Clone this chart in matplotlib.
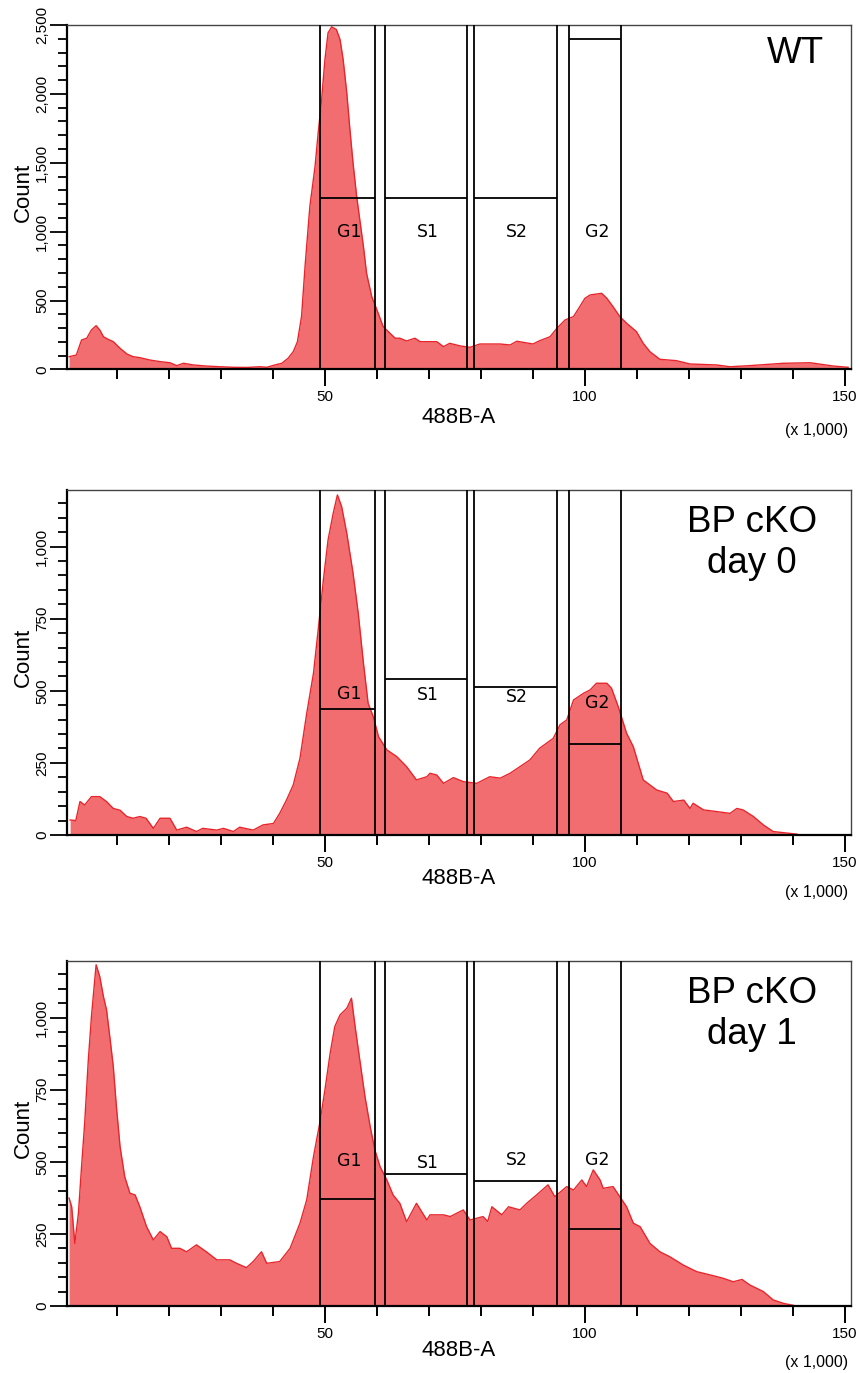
import matplotlib
matplotlib.use("Agg")
import matplotlib.pyplot as plt
from matplotlib.ticker import MultipleLocator, FixedLocator, StrMethodFormatter

plt.rcParams["font.family"] = ["Liberation Sans", "DejaVu Sans"]

# ---------------- DATA (488B-A in thousands, counts) ----------------

wt_x = [0.8, 2.2, 3.2, 4.2, 5.1, 6.0, 6.7, 7.4, 8.3, 9.3,
        10.6, 11.9, 13.1, 14.4, 16.3, 18.3, 20.2, 21.5, 22.8, 24.7,
        27.2, 29.8, 32.4, 35.0, 37.5, 38.8, 40.4, 41.7, 42.9, 43.9,
        44.7, 45.5, 46.2, 47.1, 48.1, 48.7, 49.3, 50.0, 50.6, 51.3,
        52.2, 52.9, 53.5, 54.2, 54.8, 55.4, 56.1, 56.7, 57.4, 58.0,
        59.0, 60.0, 61.2, 62.5, 63.5, 64.4, 65.7, 67.3, 68.3, 71.5,
        72.8, 74.0, 76.0, 77.9, 79.8, 83.7, 85.6, 86.9, 90.0, 91.3,
        93.3, 94.6, 96.2, 97.8, 99.0, 100.0, 101.0, 103.2, 104.2, 105.4,
        106.7, 108.0, 109.9, 111.2, 112.5, 114.4, 117.6, 120.2, 125.3, 127.9,
        131.7, 138.1, 143.3, 147.8, 150.6]
wt_count = [93, 105, 214, 227, 287, 318, 287, 238, 219, 202,
            154, 113, 93, 86, 69, 57, 49, 28, 45, 33,
            25, 20, 16, 15, 20, 16, 33, 45, 81, 129,
            200, 384, 760, 1183, 1474, 1717, 1935, 2249, 2443, 2487,
            2467, 2395, 2249, 2007, 1741, 1499, 1256, 1087, 893, 699,
            529, 432, 311, 263, 227, 227, 207, 227, 202, 202,
            166, 190, 171, 161, 185, 185, 178, 205, 185, 209,
            238, 299, 360, 384, 456, 517, 541, 553, 517, 456,
            384, 336, 275, 190, 129, 74, 64, 40, 33, 20,
            28, 45, 49, 25, 16]

d0_x = [1.0, 2.1, 2.9, 3.8, 5.1, 6.7, 8.0, 9.3, 10.6, 11.9,
        13.1, 14.4, 15.6, 17.0, 18.3, 20.2, 21.5, 23.4, 25.3, 26.5,
        29.2, 30.5, 32.4, 33.6, 36.2, 38.1, 40.1, 41.3, 42.6, 43.9,
        45.2, 46.5, 47.8, 48.7, 49.7, 50.6, 51.6, 52.4, 53.2, 54.2,
        55.4, 56.4, 57.4, 58.3, 59.3, 60.3, 61.9, 63.8, 65.7, 67.6,
        69.6, 70.2, 71.5, 72.8, 74.7, 76.6, 79.2, 81.7, 83.7, 85.6,
        87.5, 89.4, 91.3, 92.6, 93.9, 95.2, 96.5, 97.8, 99.7, 101.0,
        102.2, 104.2, 105.1, 106.4, 108.0, 109.3, 111.2, 113.8, 115.8, 117.0,
        119.0, 120.2, 120.8, 122.8, 125.4, 127.9, 129.2, 130.4, 132.4, 134.3,
        136.2, 138.2, 140.7, 141.3]
d0_count = [52, 50, 116, 104, 133, 133, 116, 92, 86, 64,
            58, 64, 58, 23, 58, 58, 17, 27, 12, 23,
            17, 23, 12, 27, 17, 35, 40, 75, 121, 173,
            266, 422, 561, 711, 884, 1023, 1116, 1179, 1139, 1046,
            908, 769, 596, 457, 410, 341, 295, 272, 237, 191,
            202, 214, 208, 179, 199, 185, 179, 202, 197, 214,
            237, 260, 301, 318, 335, 382, 399, 468, 491, 503,
            526, 526, 509, 445, 353, 306, 191, 156, 145, 116,
            121, 92, 110, 87, 81, 75, 92, 87, 64, 35,
            12, 8, 3, 0]

d1_x = [0.8, 1.3, 1.9, 2.6, 3.2, 3.8, 4.5, 5.1, 6.0, 6.7,
        7.4, 8.0, 8.7, 9.3, 9.9, 10.6, 11.5, 12.5, 13.5, 14.4,
        15.7, 17.0, 18.3, 19.6, 20.5, 22.1, 23.4, 25.3, 27.2, 29.2,
        31.7, 33.0, 34.9, 36.2, 37.8, 38.8, 41.3, 43.3, 45.2, 46.5,
        47.8, 49.0, 50.0, 51.0, 51.9, 52.9, 54.2, 55.1, 55.8, 56.7,
        57.7, 58.7, 59.6, 60.6, 61.9, 63.1, 64.4, 65.7, 67.6, 69.6,
        70.2, 72.8, 74.1, 76.6, 77.9, 80.4, 81.3, 82.1, 84.0, 85.3,
        87.5, 88.8, 90.7, 92.9, 94.2, 96.5, 97.8, 99.4, 100.3, 101.6,
        102.9, 103.5, 105.4, 106.7, 108.0, 109.3, 110.6, 112.5, 114.4, 116.3,
        118.9, 121.5, 124.0, 126.6, 128.5, 130.2, 131.7, 134.3, 136.2, 138.2,
        140.7]
d1_count = [374, 344, 217, 322, 483, 634, 853, 1003, 1183, 1142,
            1073, 1027, 923, 830, 691, 553, 448, 391, 385, 344,
            275, 229, 258, 240, 200, 200, 188, 212, 188, 160,
            160, 148, 133, 154, 188, 148, 154, 200, 287, 368,
            518, 634, 749, 876, 969, 1009, 1032, 1067, 969, 853,
            726, 622, 541, 483, 437, 385, 356, 292, 356, 298,
            316, 316, 310, 333, 298, 310, 293, 344, 316, 344,
            333, 356, 385, 420, 379, 414, 402, 437, 414, 472,
            437, 408, 414, 379, 344, 287, 275, 217, 188, 171,
            142, 119, 108, 96, 84, 92, 73, 50, 21, 9,
            0]

# gates (same x range in all panels)
gate_names = ["G1", "S1", "S2", "G2"]
gate_lo = [49.0, 61.6, 78.6, 97.0]
gate_hi = [59.6, 77.4, 94.6, 107.0]

wt_gate_level = [1246, 1246, 1246, 2400]
wt_label_y = [1000, 1000, 1000, 1000]
d0_gate_level = [437, 542, 514, 315]
d0_label_y = [489, 485, 478, 457]
d1_gate_level = [370, 457, 434, 266]
d1_label_y = [504, 496, 506, 506]

# ---------------- STYLE ----------------

FILL = "#f26d70"
EDGE = "#e8252b"
FIG_W, FIG_H = 860, 1373
AX_LEFT, AX_RIGHT = 67, 850.7

panels = [
    dict(x=wt_x, y=wt_count, top=25, bottom=369.5, ymax=2500, major=500, minor=100,
         level=wt_gate_level, label_y=wt_label_y, title="WT", tpos=(0.930, 0.916),
         xlab_off=48, mult_off=61),
    dict(x=d0_x, y=d0_count, top=490, bottom=835, ymax=1196, major=250, minor=50,
         level=d0_gate_level, label_y=d0_label_y, title="BP cKO\nday 0", tpos=(0.874, 0.846),
         xlab_off=44, mult_off=57),
    dict(x=d1_x, y=d1_count, top=961, bottom=1306, ymax=1196, major=250, minor=50,
         level=d1_gate_level, label_y=d1_label_y, title="BP cKO\nday 1", tpos=(0.874, 0.846),
         xlab_off=44, mult_off=57),
]

fig = plt.figure(figsize=(FIG_W / 100, FIG_H / 100), dpi=100)

for p in panels:
    h = p["bottom"] - p["top"]
    rect = [AX_LEFT / FIG_W, 1 - p["bottom"] / FIG_H,
            (AX_RIGHT - AX_LEFT) / FIG_W, h / FIG_H]
    ax = fig.add_axes(rect)

    # histogram
    ax.fill_between(p["x"], p["y"], 0, color=FILL, linewidth=0, zorder=1)
    ax.plot(p["x"], p["y"], color=EDGE, linewidth=1.0, zorder=2)

    ax.set_xlim(0.4, 151.1)
    ax.set_ylim(0, p["ymax"])

    # gates
    for name, lo, hi, lev, ly in zip(gate_names, gate_lo, gate_hi, p["level"], p["label_y"]):
        ax.axvline(lo, color="black", linewidth=1.3, zorder=3)
        ax.axvline(hi, color="black", linewidth=1.3, zorder=3)
        ax.hlines(lev, lo, hi, color="black", linewidth=1.3, zorder=3)
        ax.text((lo + hi) / 2 + 0.3, ly, name, ha="center", va="center",
                fontsize=12.5, family="DejaVu Sans", zorder=4)

    # axes styling
    for side in ["left", "bottom"]:
        ax.spines[side].set_linewidth(1.6)
        ax.spines[side].set_color("black")
    for side in ["top", "right"]:
        ax.spines[side].set_linewidth(1.0)
        ax.spines[side].set_color("#444444")

    ax.xaxis.set_major_locator(FixedLocator([50, 100, 150]))
    ax.xaxis.set_minor_locator(MultipleLocator(10))
    ax.tick_params(axis="x", which="major", length=12, width=1.4, pad=3, labelsize=11)
    ax.tick_params(axis="x", which="minor", length=7, width=1.4)

    ax.yaxis.set_major_locator(MultipleLocator(p["major"]))
    ax.yaxis.set_minor_locator(MultipleLocator(p["minor"]))
    ax.yaxis.set_major_formatter(StrMethodFormatter("{x:,.0f}"))
    ax.tick_params(axis="y", which="major", length=12, width=1.3, pad=1,
                   labelsize=11, labelrotation=90)
    ax.tick_params(axis="y", which="minor", length=6.5, width=1.3)
    for lab in ax.get_yticklabels():
        lab.set_verticalalignment("center")

    ax.text(-0.0555, 0.515, "Count", rotation=90, ha="center", va="center",
            fontsize=16, transform=ax.transAxes)
    ax.text(0.5, -p["xlab_off"] / h, "488B-A", ha="center", va="center",
            fontsize=16, transform=ax.transAxes)
    ax.text(0.997, -p["mult_off"] / h, "(x 1,000)", ha="right", va="center",
            fontsize=11.5, transform=ax.transAxes)

    ax.text(p["tpos"][0], p["tpos"][1], p["title"], ha="center", va="center",
            multialignment="center", fontsize=26.5, transform=ax.transAxes)

plt.savefig("out.png", dpi=100)
